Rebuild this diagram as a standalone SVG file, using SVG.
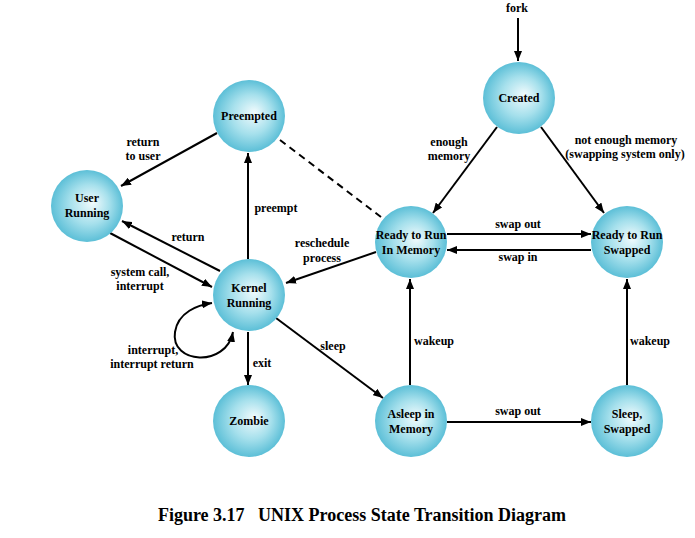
<svg xmlns="http://www.w3.org/2000/svg" width="695" height="538" viewBox="0 0 695 538">
<style>
.node circle{fill:url(#g);stroke:none}
text{font-family:'Liberation Serif','DejaVu Serif','Times New Roman',serif;font-weight:700;fill:#000;text-anchor:middle}
.node text,.lbl{font-size:12px}
.title{font-size:18px}
.e{stroke:#000;stroke-width:2;fill:none;marker-end:url(#a)}
.d{stroke:#000;stroke-width:2;fill:none;stroke-dasharray:7,5}
</style>
<defs>
<radialGradient id="g" cx="0.5" cy="0.5" r="0.5" fx="0.58" fy="0.45">
<stop offset="0" stop-color="#f2fbfd"/>
<stop offset="0.55" stop-color="#a6e0ec"/>
<stop offset="1" stop-color="#5cbfd7"/>
</radialGradient>
<marker id="a" viewBox="0 0 10 8" refX="10" refY="4" markerWidth="10" markerHeight="8" markerUnits="userSpaceOnUse" orient="auto">
<path d="M0,0 L10,4 L0,8 Z" fill="#000"/>
</marker>
<marker id="s" viewBox="0 0 10 8" refX="0" refY="4" markerWidth="10" markerHeight="8" markerUnits="userSpaceOnUse" orient="auto">
<path d="M10,0 L0,4 L10,8 Z" fill="#000"/>
</marker>
</defs>
<rect width="695" height="538" fill="#fff"/>
<g id="connectors">
<line class="e" x1="518" y1="18" x2="518" y2="61"/>
<line class="e" x1="497" y1="127" x2="433" y2="213"/>
<line class="e" x1="541" y1="127" x2="604" y2="213"/>
<line class="e" x1="447" y1="234" x2="591" y2="234"/>
<line class="e" x1="591" y1="250" x2="447" y2="250"/>
<line class="d" x1="280" y1="140" x2="381" y2="217"/>
<line class="e" x1="217" y1="133" x2="121" y2="186"/>
<line class="e" x1="248" y1="259" x2="248" y2="153"/>
<line class="e" x1="220" y1="271" x2="122" y2="221"/>
<line class="e" x1="110" y1="233" x2="212" y2="287"/>
<path class="e" d="M233,332 C226,368 170,364 175,332 C178,312 198,305 212,303" marker-start="url(#s)"/>
<line class="e" x1="248" y1="332" x2="248" y2="385"/>
<line class="e" x1="376" y1="252" x2="286" y2="283"/>
<line class="e" x1="276" y1="318" x2="383" y2="398"/>
<line class="e" x1="410" y1="385" x2="410" y2="279"/>
<line class="e" x1="447" y1="422" x2="591" y2="422"/>
<line class="e" x1="627" y1="385" x2="627" y2="279"/>
</g>
<g id="labels">
<text class="lbl" x="517" y="12">fork</text>
<text class="lbl" x="449" y="146">enough</text>
<text class="lbl" x="449" y="160">memory</text>
<text class="lbl" x="626" y="144">not enough memory</text>
<text class="lbl" x="625" y="158">(swapping system only)</text>
<text class="lbl" x="518" y="228">swap out</text>
<text class="lbl" x="518" y="261">swap in</text>
<text class="lbl" x="143" y="146">return</text>
<text class="lbl" x="143" y="160">to user</text>
<text class="lbl" x="276" y="212">preempt</text>
<text class="lbl" x="188" y="241">return</text>
<text class="lbl" x="140" y="276">system call,</text>
<text class="lbl" x="140" y="290">interrupt</text>
<text class="lbl" x="153" y="354">interrupt,</text>
<text class="lbl" x="152" y="368">interrupt return</text>
<text class="lbl" x="262" y="367">exit</text>
<text class="lbl" x="322" y="247">reschedule</text>
<text class="lbl" x="322" y="262">process</text>
<text class="lbl" x="333" y="350">sleep</text>
<text class="lbl" x="434" y="345">wakeup</text>
<text class="lbl" x="518" y="415">swap out</text>
<text class="lbl" x="650" y="345">wakeup</text>
</g>
<g id="created" class="node"><circle cx="519" cy="98" r="36"/><text x="519" y="102">Created</text></g>
<g id="preempted" class="node"><circle cx="249" cy="116" r="36"/><text x="249" y="120">Preempted</text></g>
<g id="user-running" class="node"><circle cx="87" cy="206" r="36"/><text x="87" y="202">User</text><text x="87" y="217">Running</text></g>
<g id="kernel-running" class="node"><circle cx="249" cy="295" r="36"/><text x="249" y="292">Kernel</text><text x="249" y="307">Running</text></g>
<g id="zombie" class="node"><circle cx="249" cy="421" r="36"/><text x="249" y="425">Zombie</text></g>
<g id="ready-memory" class="node"><circle cx="411" cy="242" r="36"/><text x="411" y="239">Ready to Run</text><text x="411" y="254">In Memory</text></g>
<g id="ready-swapped" class="node"><circle cx="627" cy="242" r="36"/><text x="627" y="239">Ready to Run</text><text x="627" y="254">Swapped</text></g>
<g id="asleep-memory" class="node"><circle cx="411" cy="421" r="36"/><text x="411" y="418">Asleep in</text><text x="411" y="433">Memory</text></g>
<g id="sleep-swapped" class="node"><circle cx="627" cy="421" r="36"/><text x="627" y="418">Sleep,</text><text x="627" y="433">Swapped</text></g>
<text class="title" x="362" y="521" xml:space="preserve">Figure 3.17   UNIX Process State Transition Diagram</text>
</svg>
